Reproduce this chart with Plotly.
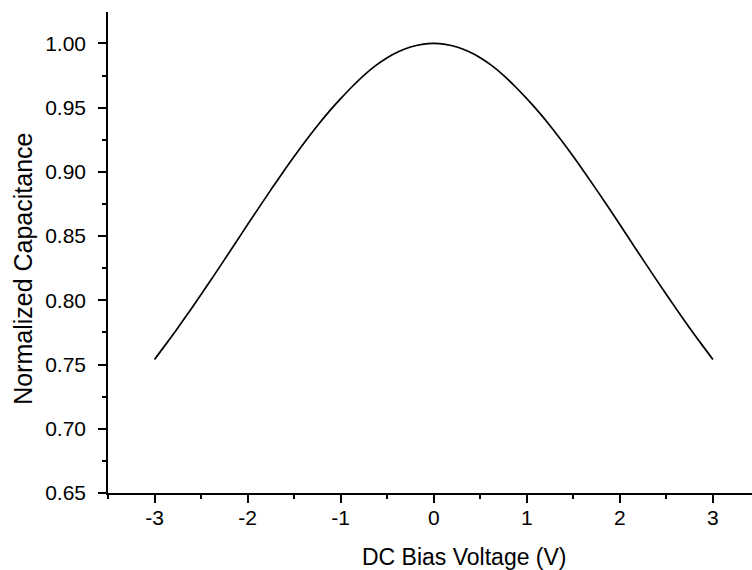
import plotly.graph_objects as go

# DC bias voltage (V) and normalized capacitance
voltage = [-3.0, -2.875, -2.75, -2.625, -2.5, -2.375, -2.25, -2.125, -2.0, -1.875, -1.75, -1.625,
           -1.5, -1.375, -1.25, -1.125, -1.0, -0.875, -0.75, -0.625, -0.5, -0.375, -0.25, -0.125,
           0.0, 0.125, 0.25, 0.375, 0.5, 0.625, 0.75, 0.875, 1.0, 1.125, 1.25, 1.375,
           1.5, 1.625, 1.75, 1.875, 2.0, 2.125, 2.25, 2.375, 2.5, 2.625, 2.75, 2.875, 3.0]
capacitance = [0.7540, 0.7661, 0.7785, 0.7914, 0.8045, 0.8179, 0.8315, 0.8452, 0.8590, 0.8726, 0.8860, 0.8992,
               0.9120, 0.9243, 0.9360, 0.9469, 0.9570, 0.9665, 0.9752, 0.9827, 0.9889, 0.9937, 0.9972, 0.9993,
               1.0000, 0.9993, 0.9972, 0.9937, 0.9889, 0.9827, 0.9752, 0.9665, 0.9570, 0.9469, 0.9360, 0.9243,
               0.9120, 0.8992, 0.8860, 0.8726, 0.8590, 0.8452, 0.8315, 0.8179, 0.8045, 0.7914, 0.7785, 0.7661, 0.7540]

x_tick_vals = [-3, -2, -1, 0, 1, 2, 3]
x_tick_text = ["-3", "-2", "-1", "0", "1", "2", "3"]
y_tick_vals = [0.65, 0.70, 0.75, 0.80, 0.85, 0.90, 0.95, 1.00]
y_tick_text = ["0.65", "0.70", "0.75", "0.80", "0.85", "0.90", "0.95", "1.00"]

x_title = "DC Bias Voltage (V)"
y_title = "Normalized Capacitance"

FONT = "Arial, Liberation Sans, sans-serif"
TICK_SIZE = 21
X_TITLE_SIZE = 23
Y_TITLE_SIZE = 25

fig = go.Figure()
fig.add_trace(go.Scatter(
    x=voltage, y=capacitance, mode="lines",
    line=dict(color="black", width=1.7, shape="spline", smoothing=1.0),
    showlegend=False, hoverinfo="x+y",
))

axis_common = dict(
    showline=True, linecolor="black", linewidth=1.6,
    showgrid=False, zeroline=False,
    ticks="outside", ticklen=8, tickwidth=1.6, tickcolor="black",
    tickfont=dict(family=FONT, size=TICK_SIZE, color="black"),
    mirror=False, automargin=False,
)

fig.update_xaxes(
    **axis_common,
    range=[-3.5, 3.42],
    tickmode="array", tickvals=x_tick_vals, ticktext=x_tick_text,
    minor=dict(ticks="outside", ticklen=4, tickwidth=1.6, tickcolor="black", dtick=0.5, tick0=0.5, showgrid=False),
    ticklabelstandoff=-3,
)
fig.update_yaxes(
    **axis_common,
    range=[0.65, 1.0245],
    tickmode="array", tickvals=y_tick_vals, ticktext=y_tick_text,
    minor=dict(ticks="outside", ticklen=4, tickwidth=1.6, tickcolor="black", dtick=0.05, tick0=0.675, showgrid=False),
    ticklabelstandoff=8,
)

fig.add_annotation(text=x_title, xref="x", yref="paper", x=0.33, y=-0.133,
                   xanchor="center", yanchor="middle", showarrow=False,
                   font=dict(family=FONT, size=X_TITLE_SIZE, color="black"))
fig.add_annotation(text=y_title, xref="paper", yref="y", x=-0.132, y=0.8245,
                   xanchor="center", yanchor="middle", showarrow=False, textangle=-90,
                   font=dict(family=FONT, size=Y_TITLE_SIZE, color="black"))

fig.update_layout(
    width=752, height=570,
    margin=dict(l=108, r=0, t=12, b=77),
    plot_bgcolor="white", paper_bgcolor="white",
    font=dict(family=FONT, color="black"),
)

fig.write_html("out.html")
